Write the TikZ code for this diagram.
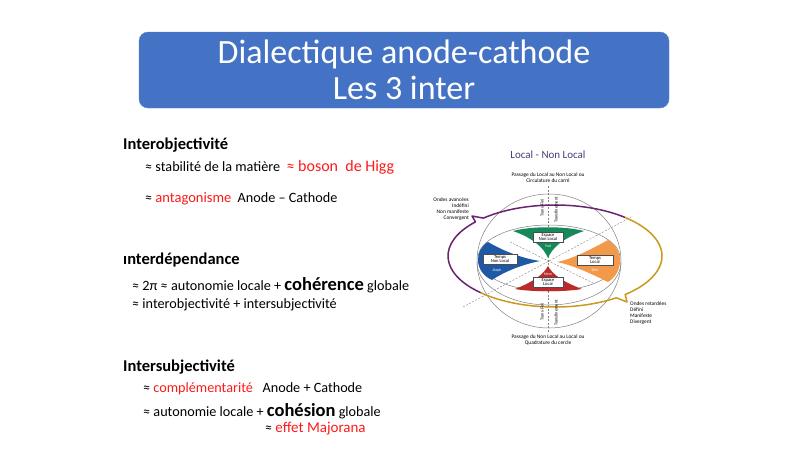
\documentclass[tikz,border=0pt]{standalone}
\usepackage{fontspec}
\setmainfont{Carlito}
\usepackage{tikz}
\usetikzlibrary{positioning}
\usetikzlibrary{calc}
\definecolor{titleblue}{HTML}{4472C4}
\definecolor{hotred}{HTML}{FF1A1A}
\definecolor{loopviolet}{HTML}{6B2273}
\definecolor{loopgold}{HTML}{C99A1E}
\definecolor{lnlviolet}{HTML}{4E3A7C}
\definecolor{wedgegreen}{HTML}{15895A}
\definecolor{wedgered}{HTML}{BD2A2A}
\definecolor{wedgeblue}{HTML}{1F58A5}
\definecolor{wedgeorange}{HTML}{F39A4A}

\begin{document}
\begin{tikzpicture}[x=1pt,y=-1pt,
  titlebox/.style={fill=titleblue,draw=titleblue!85!white,rounded corners=9pt,minimum width=530pt,minimum height=76pt,text=white,align=center,font=\fontsize{34}{36}\selectfont},
  head/.style={anchor=west,inner sep=0pt,font=\fontsize{16.5}{18}\selectfont\bfseries},
  txt/.style={anchor=west,inner sep=0pt,font=\fontsize{14.2}{16}\selectfont},
  note/.style={inner sep=0pt,align=center,font=\fontsize{5.4}{6.2}\selectfont},
  vert/.style={rotate=90,inner sep=0pt,font=\fontsize{4.4}{5}\selectfont},
  lbox/.style={draw=black!70,line width=0.3pt,fill=white,inner sep=0.6pt,align=center,minimum height=10pt,font=\fontsize{4.6}{4.8}\selectfont},
  hebr/.style={text=white,inner sep=0pt,font=\fontsize{3.8}{4}\selectfont},
  guide/.style={dash pattern=on 2pt off 1.5pt,gray,line width=0.4pt},
  rim/.style={gray,line width=0.5pt},
  loopline/.style={line width=1.5pt,line join=round}]
\useasboundingbox[fill=white] (0,0) rectangle (800,450);

\node[titlebox] (title) at (404,70) {Dialectique anode-cathode\\Les 3 inter};

\node[head] (iobj) at (123,145) {Interobjectivité};
\node[txt] (stab) at (145,167) {≈ stabilité de la matière\ \ {\color{hotred}\fontsize{16}{18}\selectfont ≈ boson\ \ de Higg}};
\node[txt] (anta) at (145,199) {≈ {\color{hotred}\fontsize{14.5}{16}\selectfont antagonisme}\ \ Anode – Cathode};
\node[head] (idep) at (123,260) {ınterdépendance};
\node[txt] (deux) at (132,285) {≈ 2π ≈ autonomie locale + {\fontsize{18.5}{20}\selectfont\bfseries cohérence} globale};
\node[txt] (inin) at (132,305) {≈ interobjectivité + intersubjectivité};
\node[head] (isub) at (123,367) {Intersubjectivité};
\node[txt] (comp) at (143,389) {≈ {\color{hotred}complémentarité}\ \ \ Anode + Cathode};
\node[txt] (auto) at (143,411) {≈ autonomie locale + {\fontsize{18.5}{20}\selectfont\bfseries cohésion} globale};
\node[txt] (majo) at (265,429) {≈ {\color{hotred}\fontsize{15}{17}\selectfont effet Majorana}};

\node[text=lnlviolet,inner sep=0pt,font=\fontsize{11}{12}\selectfont] (lnl) at (548,155) {Local - Non Local};
\node[note] (passup) at (548,178) {Passage du Local au Non Local ou\\Circulature du carré};
\node[note,anchor=east,align=right] (avance) at (469,209) {Ondes avancées\\Indéfini\\Non manifeste\\Convergent};
\node[note,anchor=west,align=left] (retard) at (630,313) {Ondes retardées\\Défini\\Manifeste\\Divergent};
\node[note] (passdown) at (548,340) {Passage du Non Local au Local ou\\Quadrature du cercle};

\coordinate (cen) at (555,256);
\coordinate (vt) at (548,186);
\coordinate (vb) at (548,333);
\coordinate (da1) at (463,307);
\coordinate (da2) at (633,216);
\coordinate (db1) at (510,242);
\coordinate (db2) at (593,283);
\draw[guide] (vt) -- (vb);
\draw[guide] (da1) -- (da2);
\draw[guide] (db1) -- (db2);
\draw[rim] (549,261) ellipse [x radius=72,y radius=67];
\draw[rim] (549,258) ellipse [x radius=71,y radius=33];
\draw[rim] (477,262) arc[start angle=180,end angle=0,x radius=72,y radius=43];

\fill[wedgegreen] (513,231) .. controls (533,238) and (544,248) .. (548,258) .. controls (552,248) and (563,238) .. (584,231) .. controls (565,226) and (531,226) .. cycle;
\fill[wedgered] (515,289) .. controls (533,282) and (544,274) .. (548,266) .. controls (552,274) and (563,282) .. (582,289) .. controls (565,292) and (531,292) .. cycle;
\fill[wedgeblue] (488,242) .. controls (505,252) and (525,259) .. (540,261) .. controls (525,264) and (507,270) .. (492,280) .. controls (474,272) and (474,250) .. cycle;
\fill[wedgeorange] (608,240) .. controls (590,250) and (572,259) .. (557,262) .. controls (572,265) and (590,273) .. (608,282) .. controls (624,272) and (624,250) .. cycle;

\draw[loopline,loopviolet] ($(cen)+(134:107 and 51)$) arc[start angle=134,end angle=222,x radius=107,y radius=51] -- (472,216) -- ($(cen)+(228:107 and 51)$) arc[start angle=228,end angle=311,x radius=107,y radius=51];
\draw[loopline,loopgold] ($(cen)+(311:107 and 51)$) arc[start angle=311,end angle=409,x radius=107,y radius=51] -- (627,302) -- ($(cen)+(415:107 and 51)$) arc[start angle=415,end angle=494,x radius=107,y radius=51];

\node[lbox,minimum width=30pt] (enl) at (548,237) {Espace\\Non Local};
\node[hebr] (yod) at (548,246) {Yod};
\node[lbox,minimum width=34pt] (tnl) at (500,259) {Temps\\Non Local};
\node[hebr] (aleph) at (497,270) {Aleph};
\node[lbox,minimum width=36pt] (tl) at (595,260) {Temps\\Local};
\node[hebr] (shin) at (595,270) {Shin};
\node[lbox,minimum width=30pt] (el) at (548,282) {Espace\\Local};
\node[hebr] (mem) at (548,274) {Mem};

\node[vert] (tfup) at (542,208) {Trans-Fini};
\node[vert] (tmup) at (556,210) {Transfinement};
\node[vert] (tfdown) at (542,312) {Trans-Fini};
\node[vert] (tmdown) at (556,313) {Transfinement};
\end{tikzpicture}
\end{document}
